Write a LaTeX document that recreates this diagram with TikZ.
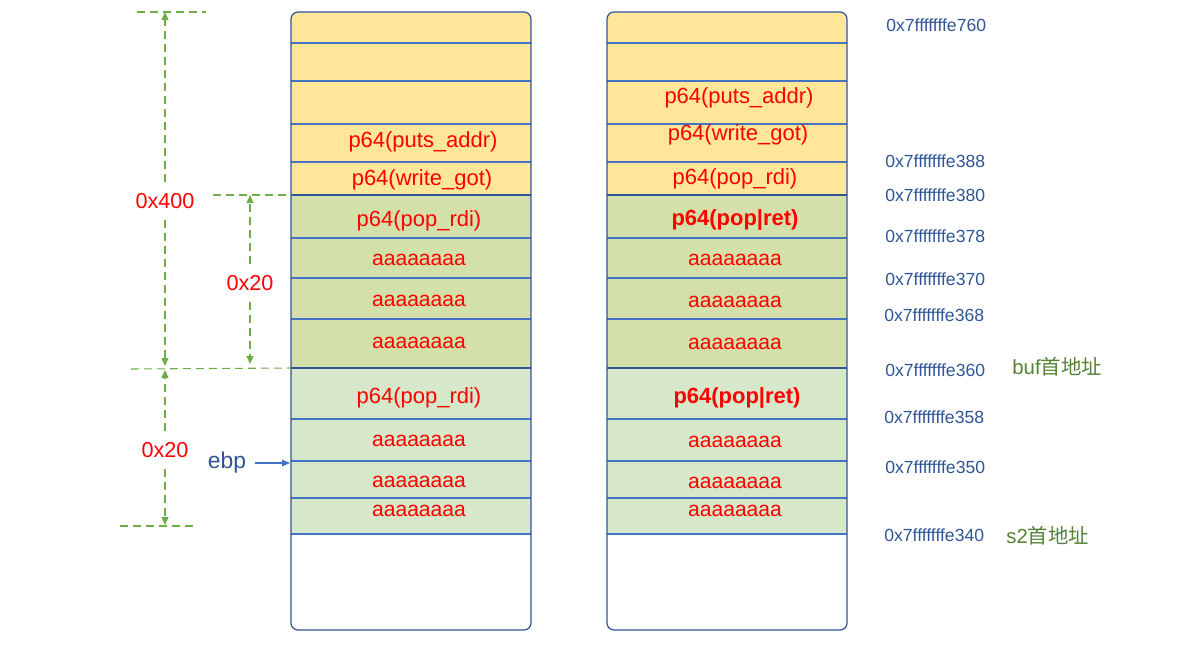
\documentclass[tikz,border=0pt]{standalone}
\usepackage{fontspec}
\setmainfont{Liberation Sans}
\newfontfamily\cjkfont{Noto Sans CJK SC}
\usetikzlibrary{arrows.meta, positioning}
\definecolor{slotyellow}{RGB}{255,230,153}
\definecolor{frameolive}{RGB}{212,224,170}
\definecolor{slotgreen}{RGB}{214,231,202}
\definecolor{lineblue}{RGB}{68,114,196}
\definecolor{frameblue}{RGB}{47,85,151}
\definecolor{dimgreen}{RGB}{112,173,71}
\definecolor{notegreen}{RGB}{84,130,53}
\definecolor{payloadred}{RGB}{255,0,0}

\begin{document}
\begin{tikzpicture}[
    x=0.02cm, y=-0.02cm,
    payload/.style={text=payloadred, font=\fontsize{12.5}{14}\selectfont, inner sep=1pt},
    filler/.style={text=payloadred, font=\fontsize{12}{14}\selectfont, inner sep=1pt},
    gadget/.style={text=payloadred, font=\fontsize{12.5}{14}\selectfont\bfseries, inner sep=1pt},
    addr/.style={text=frameblue, font=\fontsize{10}{12}\selectfont, anchor=west, inner sep=0pt},
    note/.style={text=notegreen, font=\fontsize{11.6}{14}\selectfont, anchor=west, inner sep=0pt},
    sizelabel/.style={text=payloadred, font=\fontsize{12.3}{14}\selectfont, inner xsep=2pt, inner ysep=6pt},
    dimline/.style={dimgreen, line width=0.6pt, dash pattern=on 1.6mm off 1mm},
    dimarrow/.style={dimline, -{Triangle[length=1.6mm,width=1.4mm]}},
    slotline/.style={lineblue, line width=0.6pt},
    splitline/.style={frameblue, line width=1.1pt}
]
    \useasboundingbox (0,0) rectangle (1185,656);

    % Stack columns
    \foreach \cx in {291,607} {
        \begin{scope}
            \clip[rounded corners=4pt] (\cx,12) rectangle ++(240,618);
            \fill[slotyellow] (\cx,12) rectangle ++(240,183);
            \fill[frameolive] (\cx,195) rectangle ++(240,173);
            \fill[slotgreen] (\cx,368) rectangle ++(240,166);
        \end{scope}
        \foreach \ry in {43,81,124,162,238,278,319,419,461,498,534}
            \draw[slotline] (\cx,\ry) -- ++(240,0);
        \draw[splitline] (\cx,195) -- ++(240,0);
        \draw[splitline] (\cx,368) -- ++(240,0);
        \draw[frameblue, line width=0.7pt, rounded corners=4pt] (\cx,12) rectangle ++(240,618);
    }

    % Left payload
    \node[payload] (l1) at (423,142) {p64(puts\_addr)};
    \node[payload] (l2) at (422,180) {p64(write\_got)};
    \node[payload] (l3) at (419,221) {p64(pop\_rdi)};
    \node[filler] (l4) at (419,260) {aaaaaaaa};
    \node[filler] (l5) at (419,301) {aaaaaaaa};
    \node[filler] (l6) at (419,343) {aaaaaaaa};
    \node[payload] (l7) at (419,398) {p64(pop\_rdi)};
    \node[filler] (l8) at (419,441) {aaaaaaaa};
    \node[filler] (l9) at (419,482) {aaaaaaaa};
    \node[filler] (l10) at (419,511) {aaaaaaaa};

    % Right payload
    \node[payload] (r1) at (739,98) {p64(puts\_addr)};
    \node[payload] (r2) at (738,135) {p64(write\_got)};
    \node[payload] (r3) at (735,179) {p64(pop\_rdi)};
    \node[gadget] (r4) at (735,220) {p64(pop|ret)};
    \node[filler] (r5) at (735,260) {aaaaaaaa};
    \node[filler] (r6) at (735,302) {aaaaaaaa};
    \node[filler] (r7) at (735,344) {aaaaaaaa};
    \node[gadget] (r8) at (737,398) {p64(pop|ret)};
    \node[filler] (r9) at (735,442) {aaaaaaaa};
    \node[filler] (r10) at (735,483) {aaaaaaaa};
    \node[filler] (r11) at (735,511) {aaaaaaaa};

    % Addresses
    \node[addr] (a760) at (886,25) {0x7fffffffe760};
    \node[addr] (a388) at (885,161) {0x7fffffffe388};
    \node[addr] (a380) at (885,195) {0x7fffffffe380};
    \node[addr] (a378) at (885,236) {0x7fffffffe378};
    \node[addr] (a370) at (885,279) {0x7fffffffe370};
    \node[addr] (a368) at (884,315) {0x7fffffffe368};
    \node[addr] (a360) at (885,370) {0x7fffffffe360};
    \node[addr] (a358) at (884,417) {0x7fffffffe358};
    \node[addr] (a350) at (885,467) {0x7fffffffe350};
    \node[addr] (a340) at (884,535) {0x7fffffffe340};
    \node[note] (nbuf) at (1012,367) {buf{\cjkfont 首地址}};
    \node[note] (ns2) at (1006,536) {s2{\cjkfont 首地址}};

    % Size marks
    \coordinate (g0) at (137,12);
    \coordinate (g1) at (206,12);
    \coordinate (g2) at (213,195);
    \coordinate (g3) at (291,195);
    \coordinate (g4) at (131,369);
    \coordinate (g5) at (291,368);
    \coordinate (g6) at (120,526);
    \coordinate (g7) at (195,526);
    \draw[dimline] (g0) -- (g1);
    \draw[dimline] (g2) -- (g3);
    \draw[dimline] (g4) -- (g5);
    \draw[dimline] (g6) -- (g7);

    \node[sizelabel] (w400) at (165,201) {0x400};
    \node[sizelabel] (w20a) at (250,283) {0x20};
    \node[sizelabel] (w20b) at (165,450) {0x20};
    \coordinate (v1) at (165,12);
    \coordinate (v2) at (165,366);
    \coordinate (v3) at (250,195);
    \coordinate (v4) at (250,364);
    \coordinate (v5) at (165,370);
    \coordinate (v6) at (165,525);
    \draw[dimarrow] (w400) -- (v1);
    \draw[dimarrow] (w400) -- (v2);
    \draw[dimarrow] (w20a) -- (v3);
    \draw[dimarrow] (w20a) -- (v4);
    \draw[dimarrow] (w20b) -- (v5);
    \draw[dimarrow] (w20b) -- (v6);

    % Frame pointer
    \node[text=frameblue, font=\fontsize{13}{15}\selectfont, inner sep=2pt] (ebp) at (227,463) {ebp};
    \coordinate (ebpslot) at (290,463);
    \draw[lineblue, line width=0.6pt, -{Triangle[length=1.6mm,width=1.3mm]}, shorten <=1mm] (ebp.east) -- (ebpslot);
\end{tikzpicture}
\end{document}
